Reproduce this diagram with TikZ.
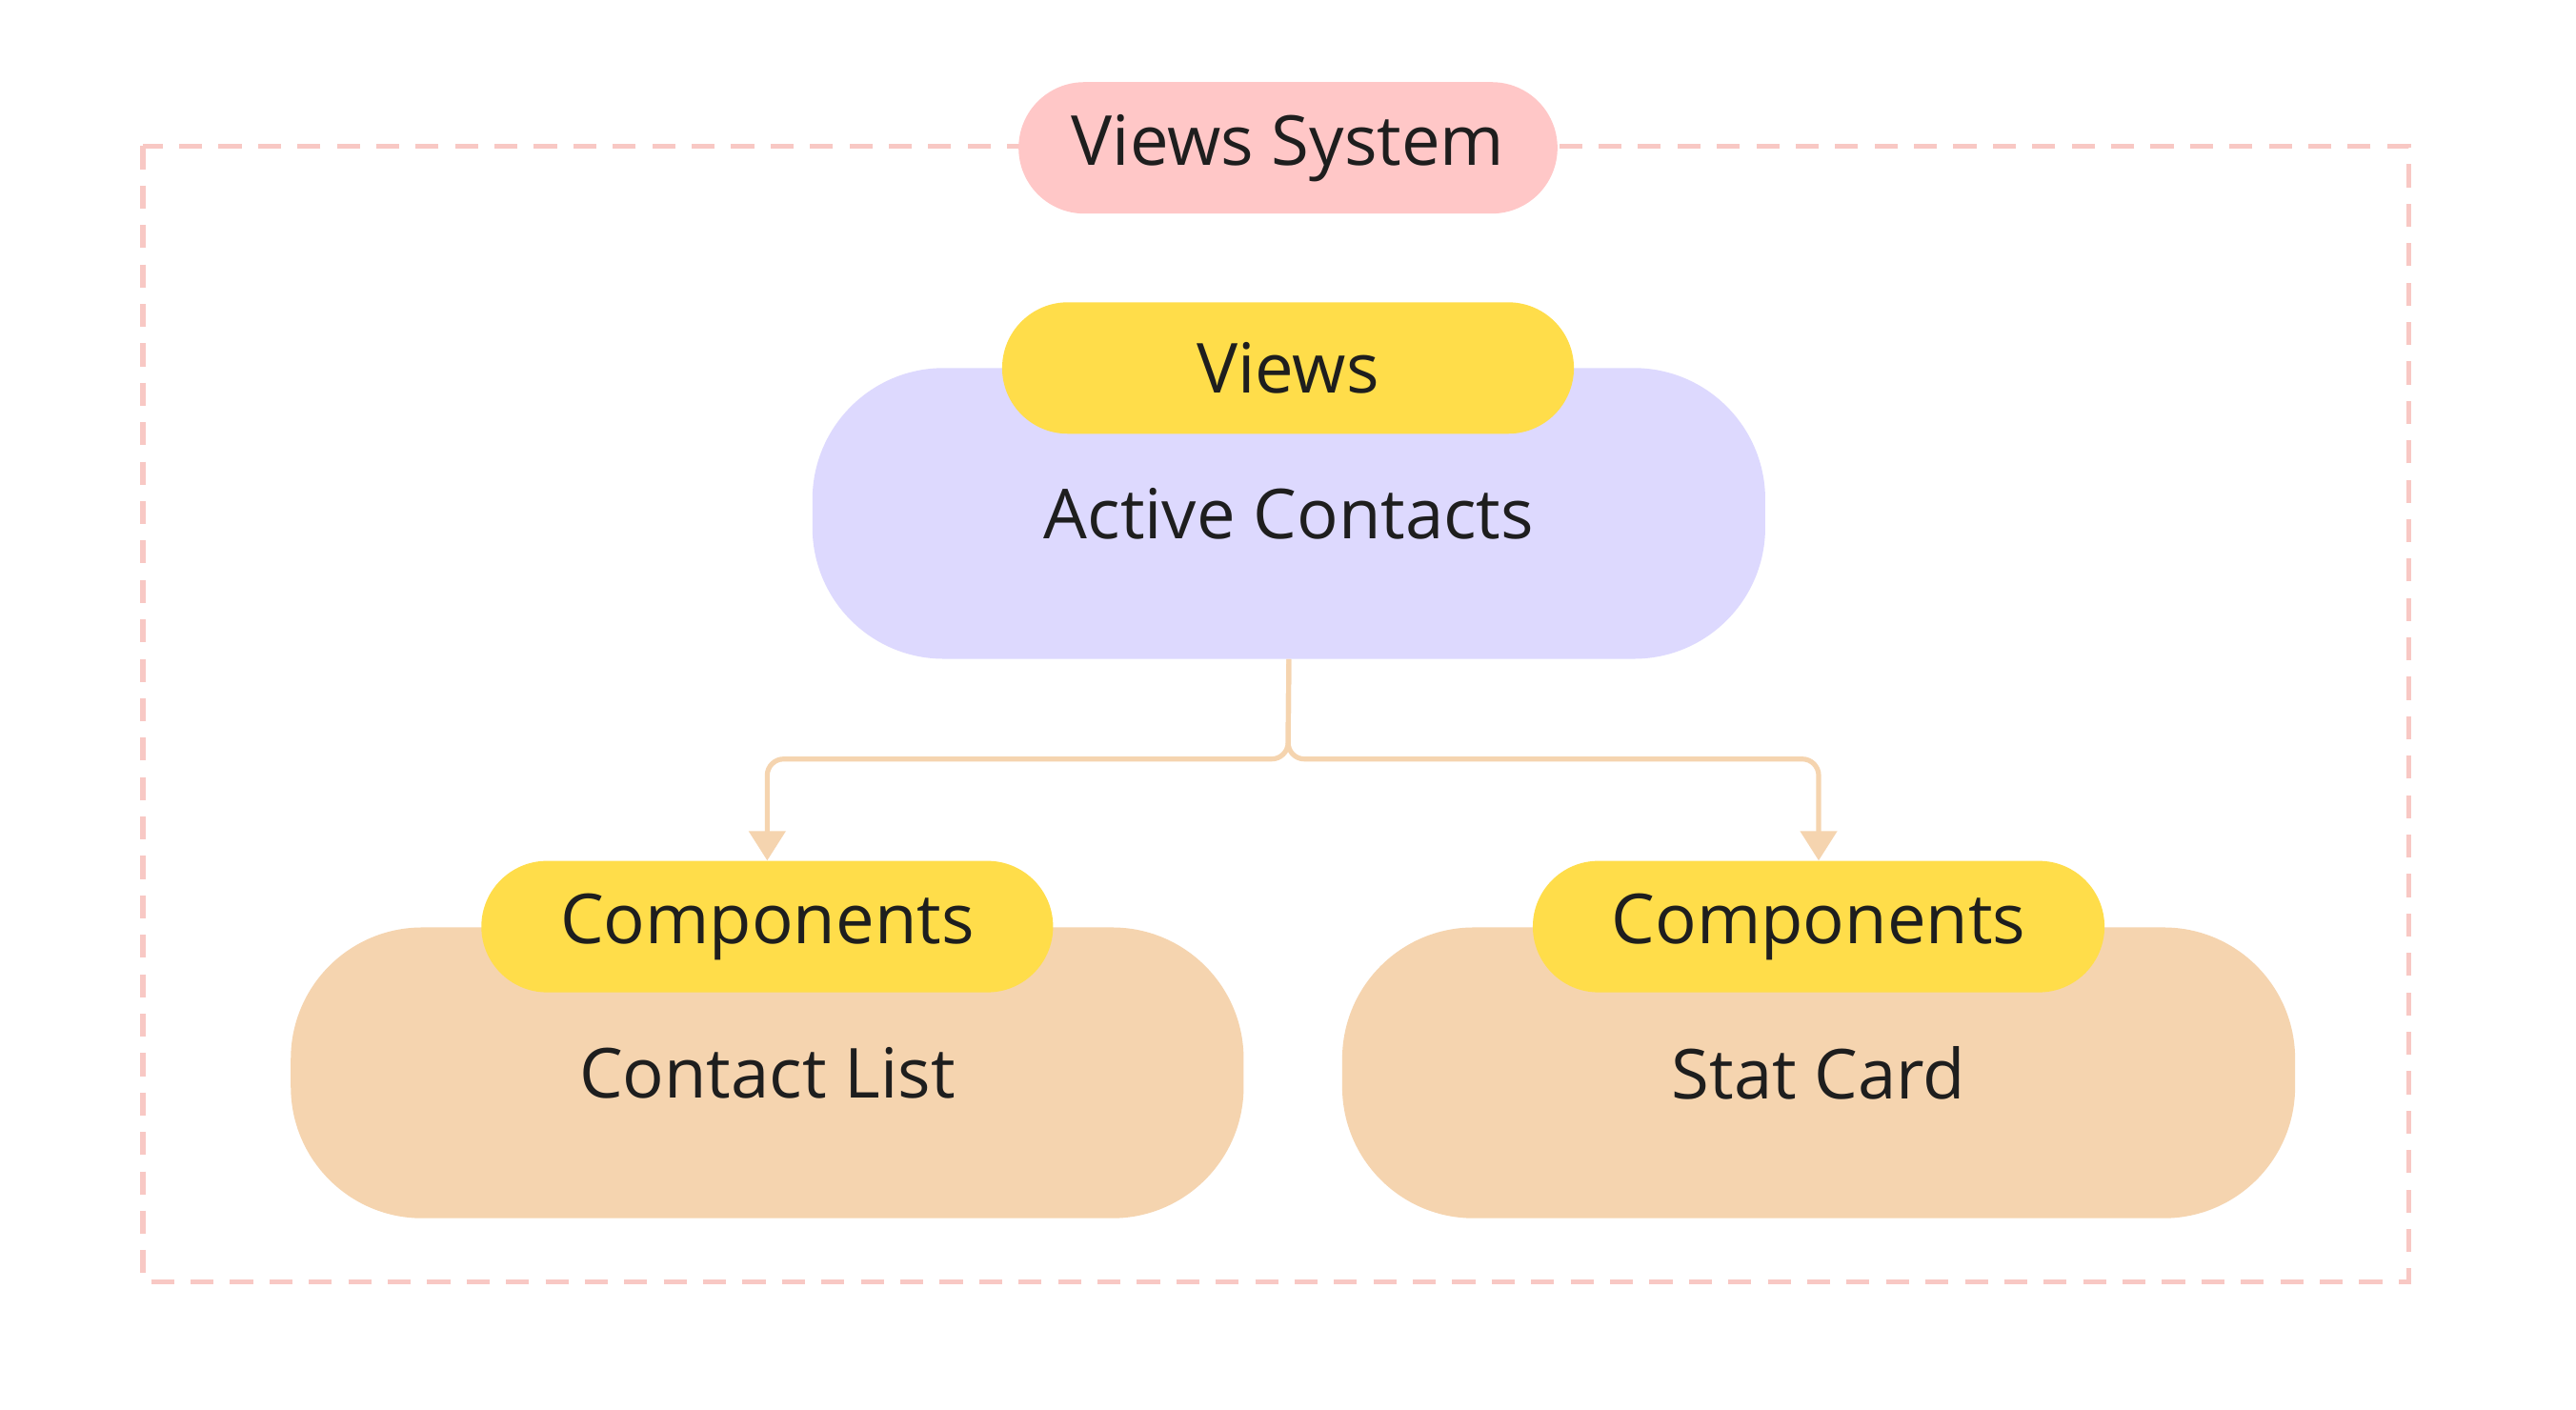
\documentclass[tikz,border=0pt]{standalone}
\usepackage{fontspec}
\setmainfont{Open Sans}
\usetikzlibrary{arrows.meta}
\definecolor{frame}{HTML}{F8C8C4}
\definecolor{titlef}{HTML}{FFC7C7}
\definecolor{viewf}{HTML}{DDD9FE}
\definecolor{pillf}{HTML}{FFDD4A}
\definecolor{compf}{HTML}{F5D4AF}
\definecolor{txt}{HTML}{1E1E1E}
\tikzset{
 box/.style={rectangle, rounded corners=80pt, minimum width=580pt, minimum height=177pt, inner sep=0pt, text=txt, font=\fontsize{42}{48}\selectfont},
 pill/.style={rectangle, rounded corners=40pt, minimum width=348pt, minimum height=80pt, inner sep=0pt, fill=pillf, text=txt, font=\fontsize{42}{48}\selectfont},
 conn/.style={draw=compf, line width=3pt, rounded corners=10pt, -{Triangle[width=22pt,length=18pt]}}
}
\begin{document}
\begin{tikzpicture}[x=1pt,y=-1pt]
\useasboundingbox[fill=white] (0,0) rectangle (1568,858);
\draw[frame, line width=3pt, dash pattern=on 14pt off 10pt] (87,89) rectangle (1466,780);
\node[pill, fill=titlef, minimum width=328pt] (sys) at (784,90) {\raisebox{-0.06em}{Views System}};
\node[box, fill=viewf] (ac) at (784.5,312.5) {\raisebox{-0.06em}{Active Contacts}};
\node[pill] (vp) at (784,224) {\raisebox{-0.06em}{Views}};
\node[box, fill=compf] (cl) at (467,653) {\raisebox{-0.06em}{Contact List}};
\node[pill] (clp) at (467,564) {\raisebox{-0.06em}{Components}};
\node[box, fill=compf] (sc) at (1107,653) {\raisebox{-0.06em}{Stat Card}};
\node[pill] (scp) at (1107,564) {\raisebox{-0.06em}{Components}};
\draw[conn] (ac.south) -- (784,462) -| (clp.north);
\draw[conn] (ac.south) -- (784,462) -| (scp.north);
\end{tikzpicture}
\end{document}
